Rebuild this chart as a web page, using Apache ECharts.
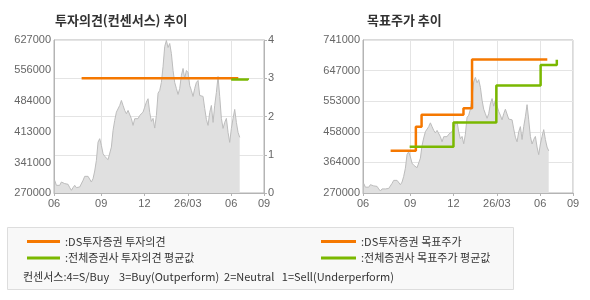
<!DOCTYPE html>
<html>
<head>
<meta charset="utf-8">
<script src="https://cdn.jsdelivr.net/npm/echarts@6/dist/echarts.min.js"></script>
<style>
html,body{margin:0;padding:0;background:#fff;}
#c{width:590px;height:300px;}
</style>
</head>
<body>
<div id="c"></div>
<script>
// ---- data ----
// x unit: days from chart start (axis spans 0..441)
const xTickValues = [0, 99, 190, 281, 372, 441];
const xTickLabels = ['06', '09', '12', '26/03', '06', '09'];

const leftPriceTicks = [270000, 341000, 413000, 484000, 556000, 627000];
const rightPriceTicks = [270000, 364000, 458000, 553000, 647000, 741000];

// daily close sampled every 3.5 days starting at day 1.5
const priceStartDay = 1.5;
const priceStepDays = 3.5;
const prices = [
  299600, 287900, 290300, 287900, 295600, 299600, 291900, 287900, 290300, 282600,
  276300, 282600, 287900, 282600, 285600, 284000, 287900, 299600, 308900, 311200,
  308900, 307300, 295600, 303600, 321300, 346200, 388800, 396800, 381100, 361800,
  355500, 352500, 347800, 350200, 377200, 416100, 439400, 458700, 462700, 474300,
  486000, 474300, 462700, 455000, 462700, 458700, 443400, 427700, 443400, 447100,
  443400, 451000, 451000, 458700, 470400, 482000, 490000, 458000, 437100, 444100,
  421500, 451000, 503000, 509300, 527900, 565200, 611800, 625800, 609500, 618800,
  595500, 555900, 527900, 514000, 500000, 514000, 544200, 560600, 537300, 555900,
  551200, 520900, 509300, 495300, 514000, 527900, 532600, 497600, 500000, 495300,
  467400, 441700, 427700, 458000, 474300, 434700, 474300, 504600, 541900, 495300,
  444100, 420800, 434700, 444100, 411400, 388100, 420800, 444100, 465000, 434700,
  411400, 399800
];

// investment opinion (consensus score 1..4)
const dsOpinionDays = [58, 387];
const dsOpinionValues = [3, 3];
const avgOpinionDays = [372, 407, 407];
const avgOpinionValues = [2.97, 2.97, 3.0];

// target price steps
const dsTargetDays = [58, 111, 123, 211, 229, 387];
const dsTargetValues = [400000, 474000, 511000, 531000, 681000, 681000];
const avgTargetDays = [98, 190, 280, 373, 407, 407];
const avgTargetValues = [412000, 487000, 601000, 664000, 664000, 680000];

const legendNames = {
  dsOpinion: 'DS투자증권 투자의견',
  avgOpinion: '전체증권사 투자의견 평균값',
  dsTarget: 'DS투자증권 목표주가',
  avgTarget: '전체증권사 목표주가 평균값'
};
const consensusText = '컨센서스:4=S/Buy    3=Buy(Outperform)  2=Neutral   1=Sell(Underperform)';

// ---- build ----
const priceData = prices.map((v, i) => [priceStartDay + i * priceStepDays, v]);
const pairs = (xs, ys) => xs.map((x, i) => [x, ys[i]]);

const ORANGE = '#f57800';
const GREEN = '#7ab800';
const AXIS = '#b4b4b4';
const GRID = '#e4e4e4';
const LABEL = '#666';
const numFont = 'Liberation Sans, Arial, sans-serif';
const krFont = '"Noto Sans CJK KR", sans-serif';

function xAxisFor(gi) {
  return {
    type: 'value', gridIndex: gi, min: 0, max: 441,
    axisLine: { show: true, lineStyle: { color: AXIS } },
    axisTick: { show: true, length: 3, lineStyle: { color: AXIS }, customValues: xTickValues },
    axisLabel: {
      customValues: xTickValues, margin: 5, color: LABEL, fontSize: 11, fontFamily: numFont,
      formatter: v => xTickLabels[xTickValues.indexOf(v)] || ''
    },
    splitLine: { show: true, lineStyle: { color: GRID } }
  };
}

const areaSeries = (xi, yi) => ({
  type: 'line', xAxisIndex: xi, yAxisIndex: yi, data: priceData,
  symbol: 'none', silent: true, z: 1,
  lineStyle: { color: '#bcbcbc', width: 1 },
  areaStyle: { color: '#e0e0e0', opacity: 1 }
});
const stepSeries = (name, xi, yi, data, color) => ({
  name, type: 'line', xAxisIndex: xi, yAxisIndex: yi, data, step: 'end',
  symbol: 'none', z: 3, lineStyle: { color, width: 2.5 }, itemStyle: { color }
});
const plainNum = v => String(v);

const chart = echarts.init(document.getElementById('c'), null, { renderer: 'canvas' });
chart.setOption({
  animation: false,
  backgroundColor: '#fff',
  title: [
    { text: '투자의견(컨센서스) 추이', left: 55, top: 14, padding: 0,
      textStyle: { fontSize: 13, fontWeight: 'bold', color: '#333', fontFamily: krFont } },
    { text: '목표주가 추이', left: 367, top: 14, padding: 0,
      textStyle: { fontSize: 13, fontWeight: 'bold', color: '#333', fontFamily: krFont } }
  ],
  grid: [
    { left: 54, top: 40, width: 210, height: 153, show: true, borderColor: AXIS, borderWidth: 1, backgroundColor: 'transparent' },
    { left: 363, top: 40, width: 210, height: 153, show: true, borderColor: AXIS, borderWidth: 1, backgroundColor: 'transparent' }
  ],
  xAxis: [xAxisFor(0), xAxisFor(1)],
  yAxis: [
    { type: 'value', gridIndex: 0, min: 270000, max: 627000, position: 'left',
      axisLine: { show: true, lineStyle: { color: AXIS } },
      axisTick: { show: false, customValues: leftPriceTicks },
      axisLabel: { customValues: leftPriceTicks, margin: 3, color: LABEL, fontSize: 11, fontFamily: numFont, formatter: plainNum },
      splitLine: { show: false } },
    { type: 'value', gridIndex: 0, min: 0, max: 4, interval: 1, position: 'right',
      axisLine: { show: true, lineStyle: { color: AXIS } },
      axisTick: { show: true, length: 3, lineStyle: { color: AXIS } },
      axisLabel: { margin: 4, color: LABEL, fontSize: 11, fontFamily: numFont, formatter: plainNum },
      splitLine: { show: true, lineStyle: { color: GRID } } },
    { type: 'value', gridIndex: 1, min: 270000, max: 741000, position: 'left',
      axisLine: { show: true, lineStyle: { color: AXIS } },
      axisTick: { show: false, customValues: rightPriceTicks },
      axisLabel: { customValues: rightPriceTicks, margin: 3, color: LABEL, fontSize: 11, fontFamily: numFont, formatter: plainNum },
      splitLine: { show: true, lineStyle: { color: GRID } } }
  ],
  legend: [
    { orient: 'vertical', left: 22, top: 231, itemWidth: 33, itemHeight: 3, itemGap: 5.5, icon: 'rect',
      formatter: ':{name}', selectedMode: false,
      textStyle: { fontSize: 11, color: '#333', fontFamily: krFont },
      data: [legendNames.dsOpinion, legendNames.avgOpinion] },
    { orient: 'vertical', left: 316, top: 231, itemWidth: 35, itemHeight: 3, itemGap: 5.5, icon: 'rect',
      formatter: ':{name}', selectedMode: false,
      textStyle: { fontSize: 11, color: '#333', fontFamily: krFont },
      data: [legendNames.dsTarget, legendNames.avgTarget] }
  ],
  graphic: [
    { type: 'rect', z: -10, shape: { x: 7.5, y: 227.5, width: 506, height: 62 },
      style: { fill: '#f8f8f8', stroke: '#dddddd', lineWidth: 1 } },
    { type: 'text', z: 10, x: 23, y: 277,
      style: { text: consensusText, fill: '#333', font: '11px ' + krFont, textVerticalAlign: 'middle' } }
  ],
  series: [
    areaSeries(0, 0),
    stepSeries(legendNames.dsOpinion, 0, 1, pairs(dsOpinionDays, dsOpinionValues), ORANGE),
    stepSeries(legendNames.avgOpinion, 0, 1, pairs(avgOpinionDays, avgOpinionValues), GREEN),
    areaSeries(1, 2),
    stepSeries(legendNames.dsTarget, 1, 2, pairs(dsTargetDays, dsTargetValues), ORANGE),
    stepSeries(legendNames.avgTarget, 1, 2, pairs(avgTargetDays, avgTargetValues), GREEN)
  ]
});
</script>
</body>
</html>
